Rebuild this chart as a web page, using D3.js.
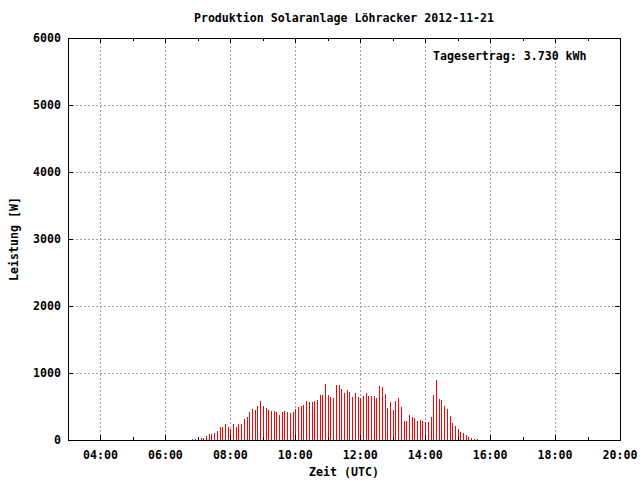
<!DOCTYPE html>
<html>
<head>
<meta charset="utf-8">
<script src="https://cdn.jsdelivr.net/npm/d3@7"></script>
<style>
  html, body { margin: 0; padding: 0; background: #fff; }
  svg { display: block; }
  text { font-family: "DejaVu Sans Mono", "Liberation Mono", monospace; font-weight: bold; font-size: 11.6px; fill: #000; }
</style>
</head>
<body>
<svg id="chart" width="640" height="480"></svg>
<script>
const title = "Produktion Solaranlage Löhracker 2012-11-21";
const note = "Tagesertrag: 3.730 kWh";
const xLabel = "Zeit (UTC)";
const yLabel = "Leistung [W]";
const day = "2012-11-21";
const xDomain = ["03:00", "20:00"];
const yDomain = [0, 6000];
const yTicks = [0, 1000, 2000, 3000, 4000, 5000, 6000];
const xMajorTicks = ["04:00", "06:00", "08:00", "10:00", "12:00", "14:00", "16:00", "18:00", "20:00"];
const xMinorTicks = ["03:00", "05:00", "07:00", "09:00", "11:00", "13:00", "15:00", "17:00", "19:00"];

const times = [
  "06:50","06:55","07:00","07:05","07:10","07:15","07:20","07:25","07:30","07:35","07:40","07:45",
  "07:50","07:55","08:00","08:05","08:10","08:15","08:20","08:25","08:30","08:35","08:40","08:45",
  "08:50","08:55","09:00","09:05","09:10","09:15","09:20","09:25","09:30","09:35","09:40","09:45",
  "09:50","09:55","10:00","10:05","10:10","10:15","10:20","10:25","10:30","10:35","10:40","10:45",
  "10:50","10:55","11:00","11:05","11:10","11:15","11:20","11:25","11:30","11:35","11:40","11:45",
  "11:50","11:55","12:00","12:05","12:10","12:15","12:20","12:25","12:30","12:35","12:40","12:45",
  "12:50","12:55","13:00","13:05","13:10","13:15","13:20","13:25","13:30","13:35","13:40","13:45",
  "13:50","13:55","14:00","14:05","14:10","14:15","14:20","14:25","14:30","14:35","14:40","14:45",
  "14:50","14:55","15:00","15:05","15:10","15:15","15:20","15:25","15:30","15:35"
];
const power = [
  15, 15, 30, 30, 30, 60, 90, 90, 105, 135, 195, 195,
  240, 195, 165, 240, 195, 240, 240, 315, 345, 420, 465, 450,
  510, 585, 510, 480, 450, 435, 435, 420, 375, 420, 435, 420,
  405, 420, 465, 495, 510, 525, 585, 570, 570, 585, 600, 675,
  675, 840, 675, 645, 630, 825, 825, 765, 705, 750, 720, 645,
  705, 645, 630, 660, 705, 660, 660, 660, 630, 810, 795, 690,
  480, 570, 450, 585, 630, 495, 285, 285, 375, 345, 330, 285,
  300, 285, 270, 270, 345, 675, 900, 615, 600, 510, 465, 360,
  255, 210, 165, 120, 105, 75, 45, 30, 15, 15
];

const parse = s => new Date(day + "T" + s + ":00Z");
const fmt = d3.utcFormat("%H:%M");

const L = 68, R = 620, T = 38, B = 440;
const svg = d3.select("#chart");

const x = d3.scaleUtc().domain(xDomain.map(parse)).range([L, R]);
const y = d3.scaleLinear().domain(yDomain).range([B, T]);
const px = v => Math.round(x(v)) + 0.5;
const py = v => Math.round(y(v)) + 0.5;

// grid
const grid = svg.append("g").attr("stroke", "#a0a0a0").attr("stroke-width", 1)
  .attr("stroke-dasharray", "2,2").attr("shape-rendering", "crispEdges");
xMajorTicks.map(parse).filter(d => x(d) < R - 1).forEach(d => {
  grid.append("line").attr("x1", px(d)).attr("x2", px(d)).attr("y1", T).attr("y2", B);
});
yTicks.filter(v => v > 0 && v < 6000).forEach(v => {
  grid.append("line").attr("x1", L).attr("x2", R).attr("y1", py(v)).attr("y2", py(v));
});

// bars (impulses)
svg.append("g").attr("shape-rendering", "crispEdges").selectAll("line")
  .data(times.map((t, i) => ({t: parse(t), v: power[i]})))
  .join("line")
  .attr("x1", d => px(d.t)).attr("x2", d => px(d.t))
  .attr("y1", B + 0.5).attr("y2", d => Math.round(y(d.v)))
  .attr("stroke", "#ff0000").attr("stroke-width", 1);

// axes frame
const axisG = svg.append("g").attr("stroke", "#000").attr("stroke-width", 1)
  .attr("fill", "none").attr("shape-rendering", "crispEdges");
axisG.append("rect").attr("x", L + 0.5).attr("y", T + 0.5).attr("width", R - L).attr("height", B - T);

// x ticks bottom & top
xMajorTicks.map(parse).forEach(d => {
  axisG.append("line").attr("x1", px(d)).attr("x2", px(d)).attr("y1", B).attr("y2", B - 5);
  axisG.append("line").attr("x1", px(d)).attr("x2", px(d)).attr("y1", T).attr("y2", T + 5);
});
xMinorTicks.map(parse).forEach(d => {
  axisG.append("line").attr("x1", px(d)).attr("x2", px(d)).attr("y1", B).attr("y2", B - 3);
  axisG.append("line").attr("x1", px(d)).attr("x2", px(d)).attr("y1", T).attr("y2", T + 3);
});
yTicks.forEach(v => {
  axisG.append("line").attr("x1", L).attr("x2", L + 5).attr("y1", py(v)).attr("y2", py(v));
  axisG.append("line").attr("x1", R).attr("x2", R - 5).attr("y1", py(v)).attr("y2", py(v));
});

// tick labels
svg.append("g").selectAll("text").data(xMajorTicks.map(parse)).join("text")
  .attr("x", d => x(d)).attr("y", 459).attr("text-anchor", "middle").text(d => fmt(d));
svg.append("g").selectAll("text").data(yTicks).join("text")
  .attr("x", 61).attr("y", d => y(d) + 4).attr("text-anchor", "end").text(d => d);

// titles
svg.append("text").attr("x", (L + R) / 2).attr("y", 22).attr("text-anchor", "middle").text(title);
svg.append("text").attr("x", 433).attr("y", 60).text(note);
svg.append("text").attr("x", (L + R) / 2).attr("y", 476).attr("text-anchor", "middle").text(xLabel);
svg.append("text").attr("transform", "translate(18," + ((T + B) / 2) + ") rotate(-90)")
  .attr("text-anchor", "middle").text(yLabel);
</script>
</body>
</html>
